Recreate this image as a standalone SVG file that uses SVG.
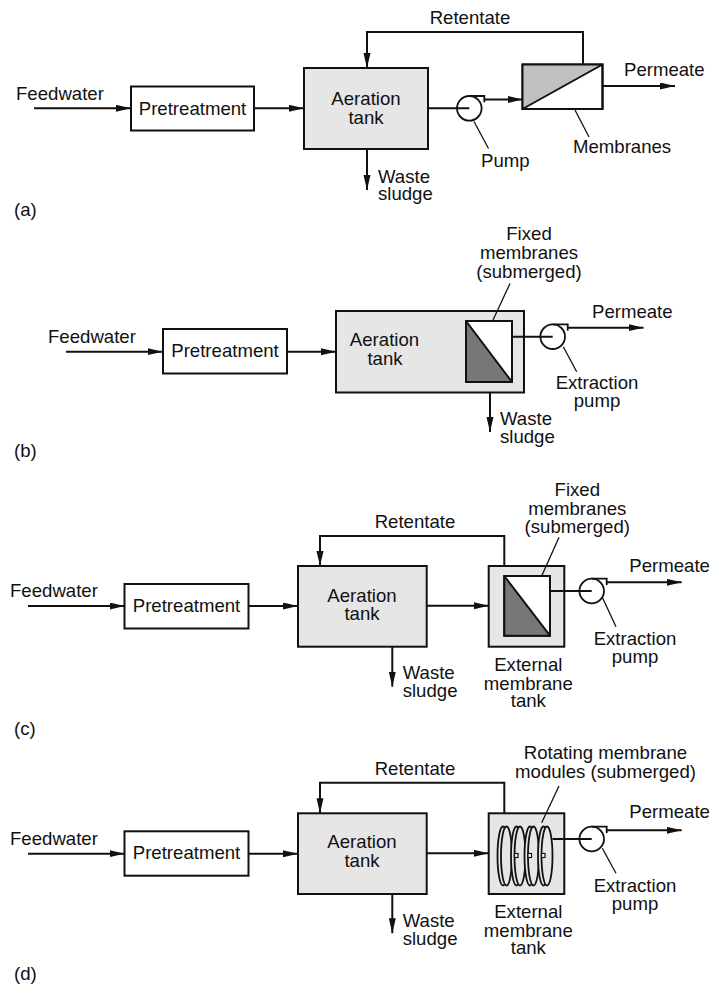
<svg xmlns="http://www.w3.org/2000/svg" width="714" height="985" viewBox="0 0 714 985">
<style>
text{font-family:"Liberation Sans",Arial,Helvetica,sans-serif;font-size:18.6px;fill:#111}
.m{text-anchor:middle}
.box{fill:#fff;stroke:#111;stroke-width:2}
.tank{fill:#e6e6e6;stroke:#111;stroke-width:2}
.ln{fill:none;stroke:#111;stroke-width:2}
.ar{fill:none;stroke:#111;stroke-width:2;marker-end:url(#ah)}
.ld{fill:none;stroke:#111;stroke-width:1.3}
.pump{fill:#fff;stroke:#111;stroke-width:1.8}
.disc{fill:#e6e6e6;stroke:#111;stroke-width:1.8}
.hub{fill:#fff;stroke:#111;stroke-width:1.2}
</style>
<defs>
<marker id="ah" markerUnits="userSpaceOnUse" markerWidth="16" markerHeight="8" refX="15" refY="3.5" orient="auto">
<path d="M0,0 L15,3.5 L0,7 z" fill="#111"/>
</marker>
<g id="pumpSym"><circle cx="0" cy="0" r="12.3" class="pump"/><path d="M0,-12.3 H15 V-6" class="ln" style="stroke-width:1.8"/></g>
<g id="discSym"><ellipse cx="5" cy="0" rx="5.5" ry="29.5" class="disc"/><ellipse cx="8.5" cy="0" rx="5.5" ry="29.5" class="disc"/></g>
</defs>

<!-- Panel (a) -->
<g id="a-feed"><text x="16" y="100">Feedwater</text></g>
<g id="a-pre"><rect x="131" y="86.5" width="123" height="44" class="box"/><text class="m" x="192.5" y="114.5">Pretreatment</text></g>
<g id="a-tank"><rect x="304" y="68" width="124" height="81" class="tank"/><text class="m" x="366" y="105">Aeration</text><text class="m" x="366" y="123.5">tank</text></g>
<g id="a-pump"><use href="#pumpSym" x="469.3" y="108.3"/><text x="481" y="167">Pump</text></g>
<g id="a-mem"><rect x="522.5" y="64.5" width="80" height="44.5" class="box"/><path d="M522.5,64.5 H602.5 L522.5,109 z" fill="#c0c0c0"/><path d="M522.5,64.5 H602.5 V109 H522.5 z M522.5,109 L602.5,64.5" class="ln"/><text x="573" y="152.7">Membranes</text></g>
<g id="a-labels"><text class="m" x="470" y="24">Retentate</text><text x="624" y="76">Permeate</text><text x="378" y="182.5">Waste</text><text x="378" y="200">sludge</text><text x="14" y="216">(a)</text></g>
<g id="a-connectors">
<path d="M34,108.3 H131" class="ar"/>
<path d="M254,108.3 H304" class="ar"/>
<path d="M583,64.5 V32 H367 V68" class="ar"/>
<path d="M428,108.3 H469.3" class="ln"/>
<path d="M484.3,99.5 H522.5" class="ar"/>
<path d="M602.5,86 H675" class="ar"/>
<path d="M367,149 V190" class="ar"/>
<path d="M575,110 L589,137" class="ld"/>
<path d="M474,121.5 L488.5,148.5" class="ld"/>
</g>

<!-- Panel (b) -->
<g id="b-feed"><text x="48" y="342.7">Feedwater</text></g>
<g id="b-pre"><rect x="163" y="329" width="124" height="44.5" class="box"/><text class="m" x="225" y="357.3">Pretreatment</text></g>
<g id="b-tank"><rect x="336" y="311" width="188" height="81.5" class="tank"/><text class="m" x="384.5" y="346">Aeration</text><text class="m" x="385" y="365">tank</text></g>
<g id="b-mem"><rect x="466" y="321" width="46" height="61" class="box"/><path d="M466,321 L512,382 H466 z" fill="#777"/><path d="M466,321 H512 V382 H466 z M466,321 L512,382" class="ln"/></g>
<g id="b-pump"><use href="#pumpSym" x="552.7" y="336.7"/><text class="m" x="597" y="389.3">Extraction</text><text class="m" x="597" y="406.7">pump</text></g>
<g id="b-labels"><text class="m" x="529" y="240">Fixed</text><text class="m" x="529" y="259.3">membranes</text><text class="m" x="529" y="278.3">(submerged)</text><text x="592" y="318.3">Permeate</text><text x="500" y="425">Waste</text><text x="500" y="443.3">sludge</text><text x="14" y="456.7">(b)</text></g>
<g id="b-connectors">
<path d="M66,351.7 H162.5" class="ar"/>
<path d="M287,351.7 H336" class="ar"/>
<path d="M512,336.7 H552.7" class="ln"/>
<path d="M567.7,327.7 H643.5" class="ar"/>
<path d="M490,392.5 V432" class="ar"/>
<path d="M493,320 L510,283.5" class="ld"/>
<path d="M563.3,346.7 L576.7,371.7" class="ld"/>
</g>

<!-- Panel (c) -->
<g id="c-feed"><text x="10" y="597.3">Feedwater</text></g>
<g id="c-pre"><rect x="124.5" y="584" width="124" height="44.5" class="box"/><text class="m" x="186.5" y="612">Pretreatment</text></g>
<g id="c-tank"><rect x="298" y="566" width="128.7" height="80.7" class="tank"/><text class="m" x="362" y="601.7">Aeration</text><text class="m" x="362" y="620">tank</text></g>
<g id="c-ext"><rect x="488.7" y="566" width="75.6" height="80.7" class="tank"/><rect x="504.3" y="576" width="45.7" height="59.7" class="box"/><path d="M504.3,576 L550,635.7 H504.3 z" fill="#777"/><path d="M504.3,576 H550 V635.7 H504.3 z M504.3,576 L550,635.7" class="ln"/><text class="m" x="528.3" y="670.7">External</text><text class="m" x="528.3" y="690">membrane</text><text class="m" x="528.3" y="707.3">tank</text></g>
<g id="c-pump"><use href="#pumpSym" x="591.7" y="591"/><text class="m" x="635" y="645">Extraction</text><text class="m" x="635" y="662.7">pump</text></g>
<g id="c-labels"><text class="m" x="415" y="528.3">Retentate</text><text class="m" x="577.3" y="496">Fixed</text><text class="m" x="577.3" y="515">membranes</text><text class="m" x="577.3" y="533.3">(submerged)</text><text x="629.3" y="571.7">Permeate</text><text x="402.7" y="679.3">Waste</text><text x="402.7" y="697.3">sludge</text><text x="14" y="735">(c)</text></g>
<g id="c-connectors">
<path d="M28,606 H124.5" class="ar"/>
<path d="M248.5,606 H298" class="ar"/>
<path d="M504.3,566 V536 H320 V566" class="ar"/>
<path d="M426.7,605.7 H488.7" class="ar"/>
<path d="M550,591 H591.7" class="ln"/>
<path d="M606.7,582.3 H681.7" class="ar"/>
<path d="M392.3,646.7 V686.7" class="ar"/>
<path d="M541.7,576 L559,537.3" class="ld"/>
<path d="M602.3,597.3 L616,626.7" class="ld"/>
</g>

<!-- Panel (d) -->
<g id="d-feed"><text x="10" y="845">Feedwater</text></g>
<g id="d-pre"><rect x="124.5" y="831.3" width="124" height="44.4" class="box"/><text class="m" x="186.5" y="859.3">Pretreatment</text></g>
<g id="d-tank"><rect x="298" y="813.3" width="128.7" height="80.7" class="tank"/><text class="m" x="362" y="848.3">Aeration</text><text class="m" x="362" y="866.7">tank</text></g>
<g id="d-ext"><rect x="488.7" y="813.3" width="75.6" height="80.7" class="tank"/>
<use href="#discSym" x="498" y="856"/>
<use href="#discSym" x="511.5" y="856"/>
<use href="#discSym" x="525" y="856"/>
<use href="#discSym" x="538.5" y="856"/>
<rect x="514.5" y="853.5" width="3.5" height="4" class="hub"/>
<rect x="528" y="853.5" width="3.5" height="4" class="hub"/>
<rect x="541.5" y="853.5" width="3.5" height="4" class="hub"/>
<text class="m" x="528.3" y="918.3">External</text><text class="m" x="528.3" y="936.7">membrane</text><text class="m" x="528.3" y="954.3">tank</text></g>
<g id="d-pump"><use href="#pumpSym" x="591.7" y="839"/><text class="m" x="635" y="891.7">Extraction</text><text class="m" x="635" y="910">pump</text></g>
<g id="d-labels"><text class="m" x="415" y="775">Retentate</text><text class="m" x="605.5" y="759.3">Rotating membrane</text><text class="m" x="605.5" y="778.3">modules (submerged)</text><text x="629.3" y="818.3">Permeate</text><text x="402.7" y="926.7">Waste</text><text x="402.7" y="945">sludge</text><text x="14" y="980">(d)</text></g>
<g id="d-connectors">
<path d="M28,853.7 H124.5" class="ar"/>
<path d="M248.5,853.7 H298" class="ar"/>
<path d="M504.3,813.3 V782.7 H320 V813.3" class="ar"/>
<path d="M426.7,853.3 H488.7" class="ar"/>
<path d="M552.5,839 H591.7" class="ln"/>
<path d="M606.7,830.3 H681.7" class="ar"/>
<path d="M392.3,894 V933.3" class="ar"/>
<path d="M541.7,822.7 L559,786" class="ld"/>
<path d="M602.3,848.3 L616,873.3" class="ld"/>
</g>
</svg>
